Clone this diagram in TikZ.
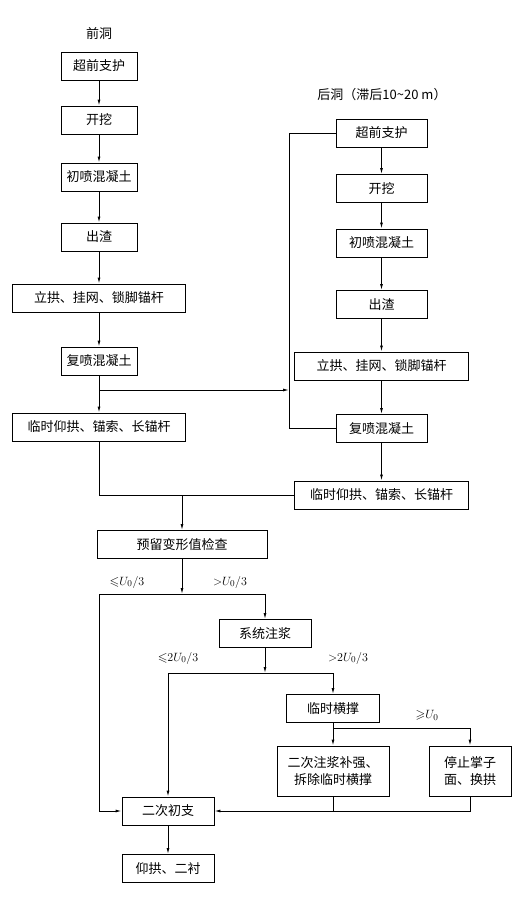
\documentclass[tikz,border=0pt]{standalone}
\usepackage{amssymb}
\usepackage{fontspec}
\newfontfamily\cjk{Noto Sans CJK SC}
\usetikzlibrary{arrows.meta}
\begin{document}
\begin{tikzpicture}[x=1pt,y=-1pt,
  box/.style={draw, line width=0.9pt, minimum height=28pt, inner sep=0pt, align=center,
    font=\cjk\fontsize{13}{17}\selectfont},
  conn/.style={line width=0.9pt},
  arr/.style={conn, -{Latex[length=6pt,width=3pt]}},
  lab/.style={font=\cjk\fontsize{13}{15}\selectfont, inner sep=0pt},
  mlab/.style={font=\fontsize{12.5}{14}\selectfont, inner sep=0pt}]
\useasboundingbox (0,0) rectangle (517,910);
% titles
\node[lab] (tA) at (99,34) {前洞};
\node[lab] (tB) at (382,95) {后洞（滞后10\textasciitilde20 m）};
% left column
\node[box, minimum width=76pt] (L1) at (99,66) {超前支护};
\node[box, minimum width=76pt] (L2) at (99,120) {开挖};
\node[box, minimum width=76pt] (L3) at (99,177) {初喷混凝土};
\node[box, minimum width=76pt] (L4) at (99,237) {出渣};
\node[box, minimum width=173pt] (L5) at (99,298) {立拱、挂网、锁脚锚杆};
\node[box, minimum width=76pt] (L6) at (99,361) {复喷混凝土};
\node[box, minimum width=173pt] (L7) at (99,427) {临时仰拱、锚索、长锚杆};
% right column
\node[box, minimum width=91pt] (R1) at (381.5,133) {超前支护};
\node[box, minimum width=91pt] (R2) at (381.5,188.5) {开挖};
\node[box, minimum width=91pt] (R3) at (381.5,243) {初喷混凝土};
\node[box, minimum width=91pt] (R4) at (381.5,304.5) {出渣};
\node[box, minimum width=174pt] (R5) at (381.5,366) {立拱、挂网、锁脚锚杆};
\node[box, minimum width=91pt] (R6) at (381.5,428.5) {复喷混凝土};
\node[box, minimum width=174pt] (R7) at (381.5,495) {临时仰拱、锚索、长锚杆};
% lower part
\node[box, minimum width=170pt] (C) at (182,544.5) {预留变形值检查};
\node[box, minimum width=92pt] (G) at (265,633.5) {系统注浆};
\node[box, minimum width=93pt] (H) at (333,708.5) {临时横撑};
\node[box, minimum width=112pt, minimum height=50pt] (S) at (333,771) {二次注浆补强、\\拆除临时横撑};
\node[box, minimum width=82pt, minimum height=50pt] (T) at (470,771) {停止掌子\\面、换拱};
\node[box, minimum width=92pt] (E) at (168,811) {二次初支};
\node[box, minimum width=92pt] (F) at (168,868.5) {仰拱、二衬};
% labels
\node[mlab] (m1) at (127,582) {${\leqslant}U_0/3$};
\node[mlab] (m2) at (230,582) {${>}U_0/3$};
\node[mlab] (m3) at (178,658) {${\leqslant}2U_0/3$};
\node[mlab] (m4) at (348,658) {${>}2U_0/3$};
\node[mlab] (m5) at (427,715) {${\geqslant}U_0$};
% coordinates
\coordinate (b1) at (99,390);
\coordinate (v1) at (289,390);
\coordinate (v0) at (289,133);
\coordinate (v2) at (289,428.5);
\coordinate (j2) at (182,495);
\coordinate (k0) at (182,594);
\coordinate (k1) at (99,594);
\coordinate (k2) at (265,594);
\coordinate (k3) at (99,811);
\coordinate (n0) at (265,673);
\coordinate (n1) at (168,673);
\coordinate (n2) at (333,673);
\coordinate (p0) at (333,728);
\coordinate (p1) at (470,728);
\coordinate (q0) at (333,811);
\coordinate (q1) at (470,811);
% left column arrows
\draw[arr] (L1) -- (L2);
\draw[arr] (L2) -- (L3);
\draw[arr] (L3) -- (L4);
\draw[arr] (L4) -- (L5);
\draw[arr] (L5) -- (L6);
\draw[arr] (L6) -- (L7);
\draw[arr] (b1) -- (v1);
% right column arrows
\draw[arr] (R1) -- (R2);
\draw[arr] (R2) -- (R3);
\draw[arr] (R3) -- (R4);
\draw[arr] (R4) -- (R5);
\draw[arr] (R5) -- (R6);
\draw[arr] (R6) -- (R7);
\draw[conn] (R1.west) -- (v0) -- (v2) -- (R6.west);
% merge
\draw[conn] (L7.south) |- (R7.west);
\draw[arr] (j2) -- (C.north);
% decision tree
\draw[arr] (C.south) -- (k0);
\draw[conn] (k1) -- (k2);
\draw[arr] (k2) -- (G.north);
\draw[arr] (k1) -- (k3) -- (E.west);
\draw[arr] (G.south) -- (n0);
\draw[conn] (n1) -- (n2);
\draw[arr] (n2) -- (H.north);
\draw[arr] (n1) -- (E.north);
\draw[conn] (H.south) -- (p0) -- (p1);
\draw[arr] (p0) -- (S.north);
\draw[arr] (p1) -- (T.north);
\draw[conn] (S.south) -- (q0);
\draw[arr] (T.south) -- (q1) -- (E.east);
\draw[arr] (E) -- (F);
\end{tikzpicture}
\end{document}
